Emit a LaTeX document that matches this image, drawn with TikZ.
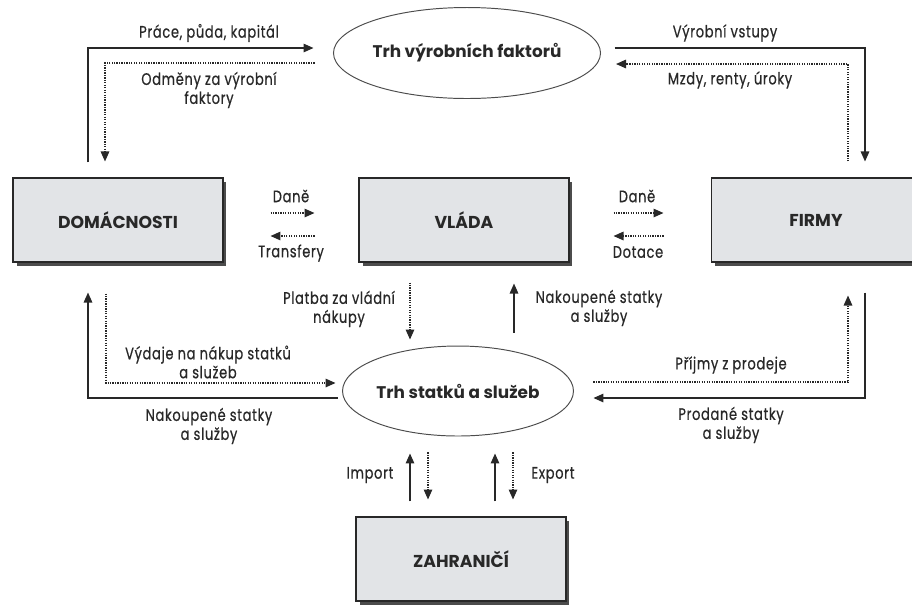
\documentclass[tikz,border=0pt]{standalone}
\usepackage{fontspec}
\setmainfont{Poppins}
\newfontfamily\lblfont[FakeStretch=0.78,LetterSpace=4,FakeBold=0.6]{Poppins}
\usetikzlibrary{arrows.meta,shapes.geometric,shadows}
\definecolor{boxgray}{RGB}{226,228,231}
\definecolor{ink}{RGB}{40,40,40}

\begin{document}
\begin{tikzpicture}[x=0.02cm,y=-0.02cm,
  box/.style={draw=ink,line width=0.6pt,fill=boxgray,minimum width=4.2cm,minimum height=1.68cm,inner sep=0pt,
    font=\fontsize{9.8}{11}\selectfont\bfseries,text=ink,
    drop shadow={shadow xshift=0.07cm,shadow yshift=-0.07cm,fill=black!70,opacity=1}},
  market/.style={ellipse,draw=black!70,line width=0.55pt,inner sep=0pt,font=\fontsize{9.6}{11}\selectfont\bfseries,text=ink},
  lbl/.style={font=\lblfont\fontsize{9.5}{10.8}\selectfont,text=ink,align=center,inner sep=0pt},
  flow/.style={draw=ink,line width=0.8pt,-{Triangle[length=0.2cm,width=0.17cm]}},
  money/.style={flow,line width=0.8pt,dash pattern=on 0.7pt off 0.7pt}]
\useasboundingbox (0,0) rectangle (912,606);

\draw (118,220) node[box] (dom) {DOMÁCNOSTI};
\draw (464,220) node[box] (vlada) {VLÁDA};
\draw (816,220) node[box] (firmy) {FIRMY};
\draw (461,559) node[box] (zahr) {ZAHRANIČÍ};
\draw (467,53) node[market,minimum width=4.42cm,minimum height=1.82cm] (trhvf) {Trh výrobních faktorů};
\draw (458,391) node[market,minimum width=4.62cm,minimum height=1.8cm] (trhss) {Trh statků a služeb};

% trh vyrobnich faktoru
\draw[flow,shorten <=0.3cm,shorten >=0.39cm] (88,0 |- dom.north) |- (trhvf.west |- 0,48);
\draw[money,shorten <=0.37cm,shorten >=0.32cm] (trhvf.west |- 0,63) -| (105,0 |- dom.north);
\draw[flow,shorten <=0.27cm,shorten >=0.32cm] (trhvf.east |- 0,48) -| (865,0 |- firmy.north);
\draw[money,shorten <=0.32cm,shorten >=0.3cm] (848,0 |- firmy.north) |- (trhvf.east |- 0,64);
\draw (209,33) node[lbl] (prace) {Práce, půda, kapitál};
\draw (209,90) node[lbl] (odmeny) {Odměny za výrobní\\faktory};
\draw (725,33) node[lbl] (vstupy) {Výrobní vstupy};
\draw (730,80) node[lbl] (mzdy) {Mzdy, renty, úroky};

% vlada
\draw[money,shorten <=0.94cm,shorten >=0.88cm] (dom.east |- 0,213) -- (vlada.west |- 0,213);
\draw[money,shorten <=0.88cm,shorten >=0.94cm] (vlada.west |- 0,236) -- (dom.east |- 0,236);
\draw[money,shorten <=0.88cm,shorten >=0.94cm] (vlada.east |- 0,213) -- (firmy.west |- 0,213);
\draw[money,shorten <=0.94cm,shorten >=0.88cm] (firmy.west |- 0,236) -- (vlada.east |- 0,236);
\draw (291,196) node[lbl] (dane) {Daně};
\draw (291,253) node[lbl] (transfery) {Transfery};
\draw (637,196) node[lbl] (dane2) {Daně};
\draw (638,252) node[lbl] (dotace) {Dotace};
\draw[money,shorten <=0.4cm,shorten >=0.12cm] (410,0 |- vlada.south) -- (410,0 |- trhss.north);
\draw[flow,shorten <=0.26cm,shorten >=0.42cm] (514,0 |- trhss.north) -- (514,0 |- vlada.south);
\draw (339,309) node[lbl] (platba) {Platba za vládní\\nákupy};
\draw (599,308) node[lbl] (nakup) {Nakoupené statky\\a služby};

% trh statku a sluzeb
\draw[money,shorten <=0.62cm,shorten >=0.13cm] (106,0 |- dom.south) |- (trhss.west |- 0,383);
\draw[flow,shorten <=0.09cm,shorten >=0.6cm] (trhss.west |- 0,398) -| (88,0 |- dom.south);
\draw[money,shorten <=0.39cm,shorten >=0.66cm] (trhss.east |- 0,382) -| (848,0 |- firmy.south);
\draw[flow,shorten <=0.6cm,shorten >=0.39cm] (865,0 |- firmy.south) |- (trhss.east |- 0,398);
\draw (208,362) node[lbl] (vydaje) {Výdaje na nákup statků\\a služeb};
\draw (209,426) node[lbl] (nakup2) {Nakoupené statky\\a služby};
\draw (731,365) node[lbl] (prijmy) {Příjmy z prodeje};
\draw (731,425) node[lbl] (prodane) {Prodané statky\\a služby};

% zahranici
\draw[flow,shorten <=0.3cm,shorten >=0.34cm] (410,0 |- zahr.north) -- (410,0 |- trhss.south);
\draw[money,shorten <=0.32cm,shorten >=0.34cm] (428,0 |- trhss.south) -- (428,0 |- zahr.north);
\draw[flow,shorten <=0.3cm,shorten >=0.34cm] (495,0 |- zahr.north) -- (495,0 |- trhss.south);
\draw[money,shorten <=0.32cm,shorten >=0.34cm] (513,0 |- trhss.south) -- (513,0 |- zahr.north);
\draw (370,475) node[lbl] (import) {Import};
\draw (553,475) node[lbl] (export) {Export};
\end{tikzpicture}
\end{document}
